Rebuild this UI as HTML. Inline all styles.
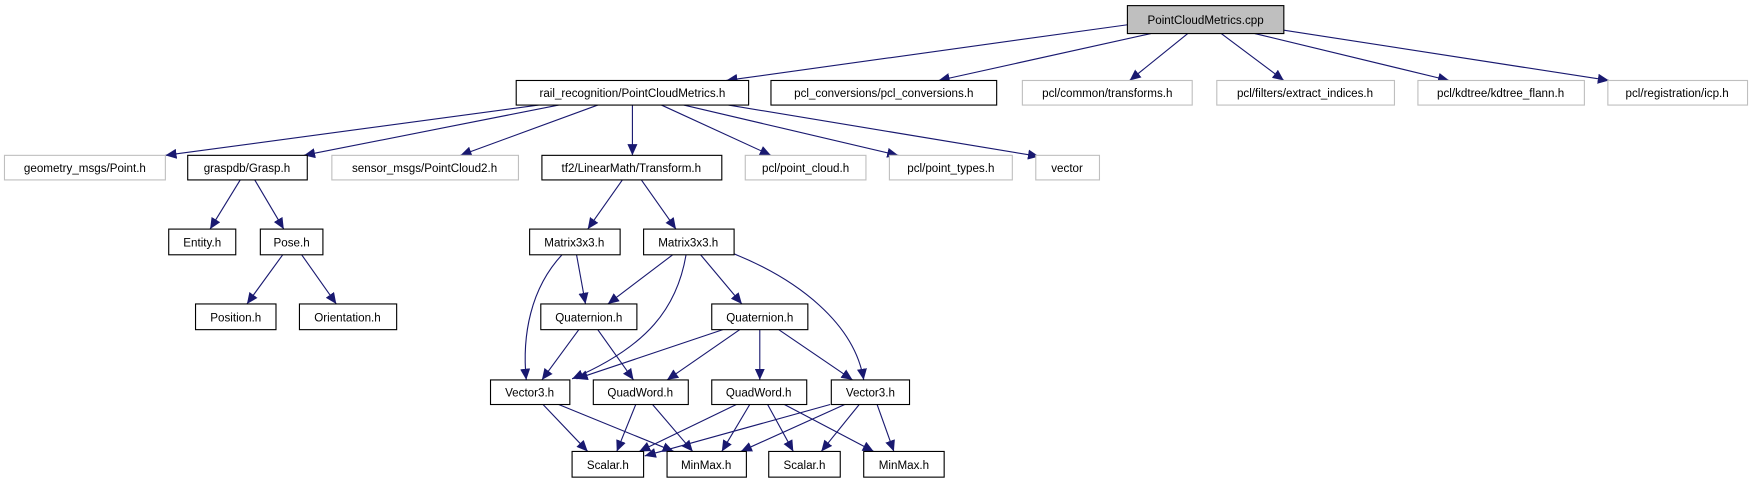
<!DOCTYPE html>
<html><head><meta charset="utf-8"><style>
html,body{margin:0;padding:0;background:#fff;}
svg{display:block;}
text{font-family:"Liberation Sans",sans-serif;font-size:10.4px;fill:#000;text-anchor:middle;}
.b{fill:#fff;stroke:#000;stroke-width:1;}
.g{fill:#fff;stroke:#bfbfbf;stroke-width:1;}
.e{fill:none;stroke:#191970;stroke-width:1;marker-end:url(#a);}
</style></head><body>
<svg width="1752" height="485" viewBox="0 0 1568 434" xmlns="http://www.w3.org/2000/svg">
<defs><marker id="a" markerUnits="userSpaceOnUse" markerWidth="11" markerHeight="9" refX="10" refY="4.5" orient="auto"><path d="M0,0 L10,4.5 L0,9 Z" fill="#191970"/></marker></defs>
<!-- edges -->
<path class="e" d="M1010,22 L650,72"/>
<path class="e" d="M1030,30 L840,72"/>
<path class="e" d="M1063,30 L1011,72"/>
<path class="e" d="M1093,30 L1149,72"/>
<path class="e" d="M1123,30 L1297,72"/>
<path class="e" d="M1149,27 L1440,72"/>
<path class="e" d="M482,94 L148,139"/>
<path class="e" d="M500,94 L272,139"/>
<path class="e" d="M535,94 L412,139"/>
<path class="e" d="M566,94 L566,139"/>
<path class="e" d="M592,94 L690,139"/>
<path class="e" d="M612,94 L804,139"/>
<path class="e" d="M652,94 L930,140"/>
<path class="e" d="M215,161 L188,205"/>
<path class="e" d="M228,161 L254,205"/>
<path class="e" d="M253,228 L221,272"/>
<path class="e" d="M270,228 L301,272"/>
<path class="e" d="M557,161 L526,205"/>
<path class="e" d="M574,161 L605,205"/>
<path class="e" d="M516,228 L524,272"/>
<path class="e" d="M503,228 C475,258 467,300 471,340"/>
<path class="e" d="M602,228 L544,272"/>
<path class="e" d="M614,228 C606,275 580,310 512,339"/>
<path class="e" d="M627,228 L664,272"/>
<path class="e" d="M654,226 C715,250 765,290 773,340"/>
<path class="e" d="M518,295 L485,340"/>
<path class="e" d="M535,295 L567,340"/>
<path class="e" d="M647,295 L516,339"/>
<path class="e" d="M662,295 L597,340"/>
<path class="e" d="M680,295 L680,340"/>
<path class="e" d="M697,295 L763,340"/>
<path class="e" d="M486,362 L526,404"/>
<path class="e" d="M500,362 L603,404"/>
<path class="e" d="M569,362 L552,404"/>
<path class="e" d="M584,362 L620,404"/>
<path class="e" d="M659,362 L572,404"/>
<path class="e" d="M671,362 L646,404"/>
<path class="e" d="M687,362 L710,404"/>
<path class="e" d="M702,362 L782,404"/>
<path class="e" d="M743,362 L577,408"/>
<path class="e" d="M756,362 L663,404"/>
<path class="e" d="M769,362 L735,404"/>
<path class="e" d="M785,362 L800,404"/>
<!-- nodes -->
<rect x="1009" y="5" width="140" height="25" fill="#bfbfbf" stroke="#000"/><text x="1079" y="21.5">PointCloudMetrics.cpp</text>
<rect class="b" x="462" y="72" width="208" height="22"/><text x="566" y="87">rail_recognition/PointCloudMetrics.h</text>
<rect class="b" x="690" y="72" width="202" height="22"/><text x="791" y="87">pcl_conversions/pcl_conversions.h</text>
<rect class="g" x="915" y="72" width="152" height="22"/><text x="991" y="87">pcl/common/transforms.h</text>
<rect class="g" x="1089" y="72" width="159" height="22"/><text x="1168" y="87">pcl/filters/extract_indices.h</text>
<rect class="g" x="1269" y="72" width="149" height="22"/><text x="1343" y="87">pcl/kdtree/kdtree_flann.h</text>
<rect class="g" x="1439" y="72" width="125" height="22"/><text x="1501" y="87">pcl/registration/icp.h</text>
<rect class="g" x="4" y="139" width="144" height="22"/><text x="76" y="154">geometry_msgs/Point.h</text>
<rect class="b" x="168" y="139" width="107" height="22"/><text x="221" y="154">graspdb/Grasp.h</text>
<rect class="g" x="297" y="139" width="167" height="22"/><text x="380" y="154">sensor_msgs/PointCloud2.h</text>
<rect class="b" x="485" y="139" width="161" height="22"/><text x="565" y="154">tf2/LinearMath/Transform.h</text>
<rect class="g" x="667" y="139" width="108" height="22"/><text x="721" y="154">pcl/point_cloud.h</text>
<rect class="g" x="796" y="139" width="110" height="22"/><text x="851" y="154">pcl/point_types.h</text>
<rect class="g" x="927" y="139" width="57" height="22"/><text x="955" y="154">vector</text>
<rect class="b" x="151" y="205" width="60" height="23"/><text x="181" y="220.5">Entity.h</text>
<rect class="b" x="233" y="205" width="56" height="23"/><text x="261" y="220.5">Pose.h</text>
<rect class="b" x="474" y="205" width="81" height="23"/><text x="514" y="220.5">Matrix3x3.h</text>
<rect class="b" x="576" y="205" width="81" height="23"/><text x="616" y="220.5">Matrix3x3.h</text>
<rect class="b" x="175" y="272" width="72" height="23"/><text x="211" y="287.5">Position.h</text>
<rect class="b" x="268" y="272" width="87" height="23"/><text x="311" y="287.5">Orientation.h</text>
<rect class="b" x="484" y="272" width="86" height="23"/><text x="527" y="287.5">Quaternion.h</text>
<rect class="b" x="637" y="272" width="86" height="23"/><text x="680" y="287.5">Quaternion.h</text>
<rect class="b" x="439" y="340" width="71" height="22"/><text x="474" y="355">Vector3.h</text>
<rect class="b" x="531" y="340" width="85" height="22"/><text x="573" y="355">QuadWord.h</text>
<rect class="b" x="637" y="340" width="85" height="22"/><text x="679" y="355">QuadWord.h</text>
<rect class="b" x="744" y="340" width="70" height="22"/><text x="779" y="355">Vector3.h</text>
<rect class="b" x="512" y="404" width="64" height="23"/><text x="544" y="419.5">Scalar.h</text>
<rect class="b" x="597" y="404" width="71" height="23"/><text x="632" y="419.5">MinMax.h</text>
<rect class="b" x="688" y="404" width="64" height="23"/><text x="720" y="419.5">Scalar.h</text>
<rect class="b" x="773" y="404" width="72" height="23"/><text x="809" y="419.5">MinMax.h</text>
</svg>
</body></html>
